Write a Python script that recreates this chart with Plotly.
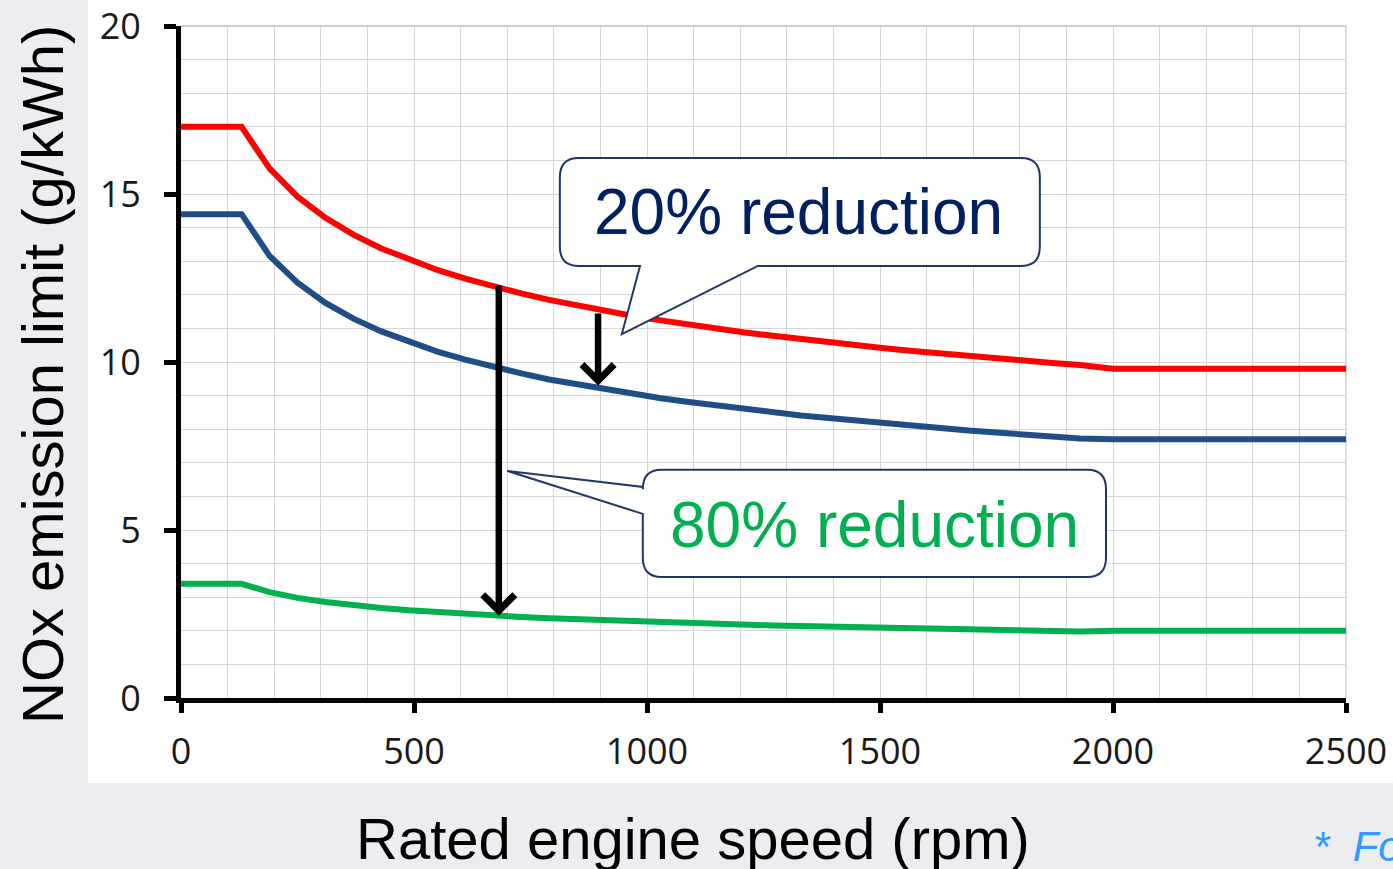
import plotly.graph_objects as go

# ---- data ----
rpm = [0, 130, 190, 250, 310, 370, 430, 490, 550, 610, 670, 730, 790, 850, 910, 970,
       1030, 1090, 1150, 1210, 1270, 1330, 1390, 1450, 1510, 1570, 1630, 1690, 1750,
       1810, 1870, 1930, 2000, 2500]
tier1 = [17.0, 17.0, 15.76, 14.92, 14.29, 13.79, 13.38, 13.04, 12.74, 12.48, 12.25, 12.04,
         11.85, 11.68, 11.52, 11.37, 11.24, 11.11, 10.99, 10.88, 10.78, 10.68, 10.58,
         10.49, 10.41, 10.33, 10.25, 10.18, 10.11, 10.04, 9.97, 9.91, 9.8, 9.8]
tier2 = [14.4, 14.4, 13.16, 12.36, 11.76, 11.29, 10.91, 10.59, 10.31, 10.07, 9.85, 9.66,
         9.48, 9.33, 9.18, 9.05, 8.92, 8.81, 8.70, 8.60, 8.50, 8.41, 8.33, 8.25, 8.17,
         8.10, 8.03, 7.96, 7.90, 7.84, 7.78, 7.72, 7.7, 7.7]
tier3 = [3.4, 3.4, 3.15, 2.98, 2.86, 2.76, 2.68, 2.61, 2.55, 2.50, 2.45, 2.41, 2.37, 2.34,
         2.30, 2.27, 2.25, 2.22, 2.20, 2.18, 2.16, 2.14, 2.12, 2.10, 2.08, 2.07, 2.05,
         2.04, 2.02, 2.01, 1.99, 1.98, 2.0, 2.0]

x_ticks = [0, 500, 1000, 1500, 2000, 2500]
y_ticks = [0, 5, 10, 15, 20]

series = [
    ("Tier I", tier1, "#FF0000"),
    ("Tier II", tier2, "#1F4E85"),
    ("Tier III", tier3, "#00B050"),
]

fig = go.Figure()
for name, vals, col in series:
    fig.add_trace(go.Scatter(x=rpm, y=vals, mode="lines", name=name,
                             line=dict(color=col, width=6), showlegend=False))

W, H = 1393, 869
ml, mr, mt, mb = 181, 47, 26, 171

grid_col = "#D6D6D6"
tickfont = dict(family="Open Sans", size=36, color="#1A1A1A")

fig.update_layout(
    width=W, height=H, autosize=False,
    margin=dict(l=ml, r=mr, t=mt, b=mb, pad=0, autoexpand=False),
    paper_bgcolor="#EBEDF0",
    plot_bgcolor="white",
    showlegend=False,
    xaxis=dict(range=[0, 2500], tickvals=x_ticks, showline=True, linecolor="black",
               linewidth=5, ticks="outside", ticklen=10, tickwidth=5, tickcolor="black",
               showgrid=True, gridcolor=grid_col, gridwidth=1.3, zeroline=False,
               minor=dict(dtick=100, tick0=0, showgrid=True, gridcolor=grid_col,
                          gridwidth=1.3, ticks=""),
               tickfont=tickfont, ticklabelstandoff=8, fixedrange=True, automargin=False),
    yaxis=dict(range=[0, 20], tickvals=y_ticks, showline=True, linecolor="black",
               linewidth=5, ticks="outside", ticklen=12, tickwidth=5, tickcolor="black",
               showgrid=True, gridcolor=grid_col, gridwidth=1.3, zeroline=False,
               minor=dict(dtick=1, tick0=0, showgrid=True, gridcolor=grid_col,
                          gridwidth=1.3, ticks=""),
               tickfont=tickfont, ticklabelstandoff=16, fixedrange=True, automargin=False),
)

pw = W - ml - mr
ph = H - mt - mb

def px2paper_x(p):
    return (p - ml) / pw

def px2paper_y(p):
    return (H - mb - p) / ph

shapes = []
# white panel behind chart
shapes.append(dict(type="rect", xref="paper", yref="paper",
                   x0=px2paper_x(88), x1=px2paper_x(W), y0=px2paper_y(783), y1=px2paper_y(0),
                   fillcolor="white", line=dict(width=0), layer="below"))
# top and right border lines
shapes.append(dict(type="line", xref="paper", yref="paper", x0=0, x1=1, y0=1, y1=1,
                   line=dict(color="#BDBDBD", width=1.5), layer="below"))
shapes.append(dict(type="line", xref="paper", yref="paper", x0=1, x1=1, y0=0, y1=1,
                   line=dict(color="#D0D0D0", width=1.5), layer="below"))

def callout_bottom(x0, x1, y0, y1, rx, ry, ta, tb, tipx, tipy):
    return (f"M{x0+rx},{y1} L{x1-rx},{y1} Q{x1},{y1} {x1},{y1-ry} L{x1},{y0+ry} "
            f"Q{x1},{y0} {x1-rx},{y0} L{tb},{y0} L{tipx},{tipy} L{ta},{y0} "
            f"L{x0+rx},{y0} Q{x0},{y0} {x0},{y0+ry} L{x0},{y1-ry} Q{x0},{y1} {x0+rx},{y1} Z")

def callout_left(x0, x1, y0, y1, rx, ry, ya, yb, tipx, tipy):
    return (f"M{x0+rx},{y1} L{x1-rx},{y1} Q{x1},{y1} {x1},{y1-ry} L{x1},{y0+ry} "
            f"Q{x1},{y0} {x1-rx},{y0} L{x0+rx},{y0} Q{x0},{y0} {x0},{y0+ry} "
            f"L{x0},{yb} L{tipx},{tipy} L{x0},{ya} L{x0},{y1-ry} Q{x0},{y1} {x0+rx},{y1} Z")

box_line = dict(color="#1F3864", width=2)
shapes.append(dict(type="path", xref="x", yref="y",
                   path=callout_bottom(813, 1843, 12.86, 16.07, 40, 0.58, 985, 1238, 946, 10.83),
                   fillcolor="white", line=box_line, layer="above"))
shapes.append(dict(type="path", xref="x", yref="y",
                   path=callout_left(991, 1985, 3.60, 6.79, 40, 0.58, 6.28, 5.48, 700, 6.76),
                   fillcolor="white", line=box_line, layer="above"))
fig.update_layout(shapes=shapes)

ann = []
# arrows
ann.append(dict(x=895, y=9.3, ax=895, ay=11.49, xref="x", yref="y", axref="x", ayref="y",
                text="", showarrow=True, arrowhead=4, arrowwidth=6.5, arrowsize=0.95,
                arrowcolor="black"))
ann.append(dict(x=682, y=2.45, ax=682, ay=12.32, xref="x", yref="y", axref="x", ayref="y",
                text="", showarrow=True, arrowhead=4, arrowwidth=6.5, arrowsize=0.95,
                arrowcolor="black"))
# callout texts
ann.append(dict(x=1326, y=14.45, xref="x", yref="y", text="20% reduction", showarrow=False,
                xanchor="center", yanchor="middle",
                font=dict(family="Liberation Sans, Arial", size=64, color="#002060")))
ann.append(dict(x=1489, y=5.15, xref="x", yref="y", text="80% reduction", showarrow=False,
                xanchor="center", yanchor="middle",
                font=dict(family="Liberation Sans, Arial", size=64, color="#00B050")))
# axis titles
ann.append(dict(x=px2paper_x(42), y=px2paper_y(375), xref="paper", yref="paper",
                xanchor="center", yanchor="middle",
                text="NOx emission limit (g/kWh)", textangle=-90, showarrow=False,
                font=dict(family="Liberation Sans, Arial", size=58, color="black")))
ann.append(dict(x=px2paper_x(693), y=px2paper_y(838), xref="paper", yref="paper",
                xanchor="center", yanchor="middle",
                text="Rated engine speed (rpm)", showarrow=False,
                font=dict(family="Liberation Sans, Arial", size=58, color="black")))
# footnote (cut off at the right edge, as in the reference)
ann.append(dict(x=px2paper_x(1311), y=px2paper_y(846), xref="paper", yref="paper",
                xanchor="left", yanchor="middle", text="<i>*  For</i>", showarrow=False,
                font=dict(family="Liberation Sans, Arial", size=42, color="#3399FF")))
fig.update_layout(annotations=ann)

fig.write_html("out.html", config={"displayModeBar": False},
               post_script="document.body.style.margin='0';document.body.style.overflow='hidden';")
